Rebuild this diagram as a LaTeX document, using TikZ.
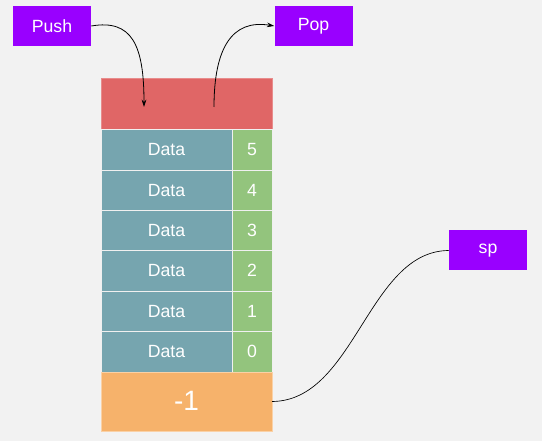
\documentclass[tikz,border=0pt]{standalone}
\usepackage{fontspec}
\setmainfont{Liberation Sans}
\usetikzlibrary{positioning, arrows.meta}
\definecolor{bg}{RGB}{242,242,242}
\definecolor{violet}{RGB}{153,0,255}
\definecolor{topred}{RGB}{224,102,102}
\definecolor{datateal}{RGB}{118,165,175}
\definecolor{idxgreen}{RGB}{147,196,125}
\definecolor{baseorange}{RGB}{246,178,107}

\begin{document}
\begin{tikzpicture}[
    x=0.75pt, y=-0.75pt,
    label/.style={rectangle, fill=violet, text=white, minimum width=58.5pt, minimum height=30pt, inner sep=0pt, font=\fontsize{13.25}{15}\selectfont},
    cell/.style={rectangle, draw=white!88!gray, line width=0.75pt, text=white, minimum height=30.25pt, inner sep=0pt, outer sep=0pt, text depth=0.5pt, font=\fontsize{13.25}{15}\selectfont},
    datacell/.style={cell, fill=datateal, minimum width=98.25pt},
    idxcell/.style={cell, fill=idxgreen, minimum width=30pt},
    arrow/.style={-{Stealth[length=5.5pt,width=3.5pt]}, line width=0.6pt}
]

\fill[bg] (0,0) rectangle (542,441);
\useasboundingbox (0,0) rectangle (542,441);

\node[label] (push) at (52,26) {Push};
\node[label] (pop) at (313.5,26) {Pop};
\node[label] (sp) at (488,250.5) {sp};

\node[cell, fill=topred, draw=topred!75!white, minimum width=128.25pt, minimum height=38.25pt] (top) at (186.5,104.5) {};

\node[datacell, below right=0pt and 0pt of top.south west] (data5) {Data};
\node[idxcell, right=0pt of data5] (num5) {5};
\node[datacell, below=0pt of data5] (data4) {Data};
\node[idxcell, right=0pt of data4] (num4) {4};
\node[datacell, below=0pt of data4] (data3) {Data};
\node[idxcell, right=0pt of data3] (num3) {3};
\node[datacell, below=0pt of data3] (data2) {Data};
\node[idxcell, right=0pt of data2] (num2) {2};
\node[datacell, below=0pt of data2] (data1) {Data};
\node[idxcell, right=0pt of data1] (num1) {1};
\node[datacell, below=0pt of data1] (data0) {Data};
\node[idxcell, right=0pt of data0] (num0) {0};

\node[cell, fill=baseorange, draw=baseorange!60!white, minimum width=128.25pt, minimum height=44.25pt, font=\fontsize{21}{24}\selectfont, below right=0pt and 0pt of data0.south west] (base) {-1};

\coordinate (pushin) at (144,107);
\coordinate (popout) at (214,107);

\draw[arrow] (push.east) .. controls (132,19) and (144,45) .. (pushin);
\draw[arrow] (popout) .. controls (214,48) and (232,19) .. (pop.west);
\draw[line width=0.5pt] (base.east) .. controls (355,401) and (368,251) .. (sp.west);

\end{tikzpicture}
\end{document}
